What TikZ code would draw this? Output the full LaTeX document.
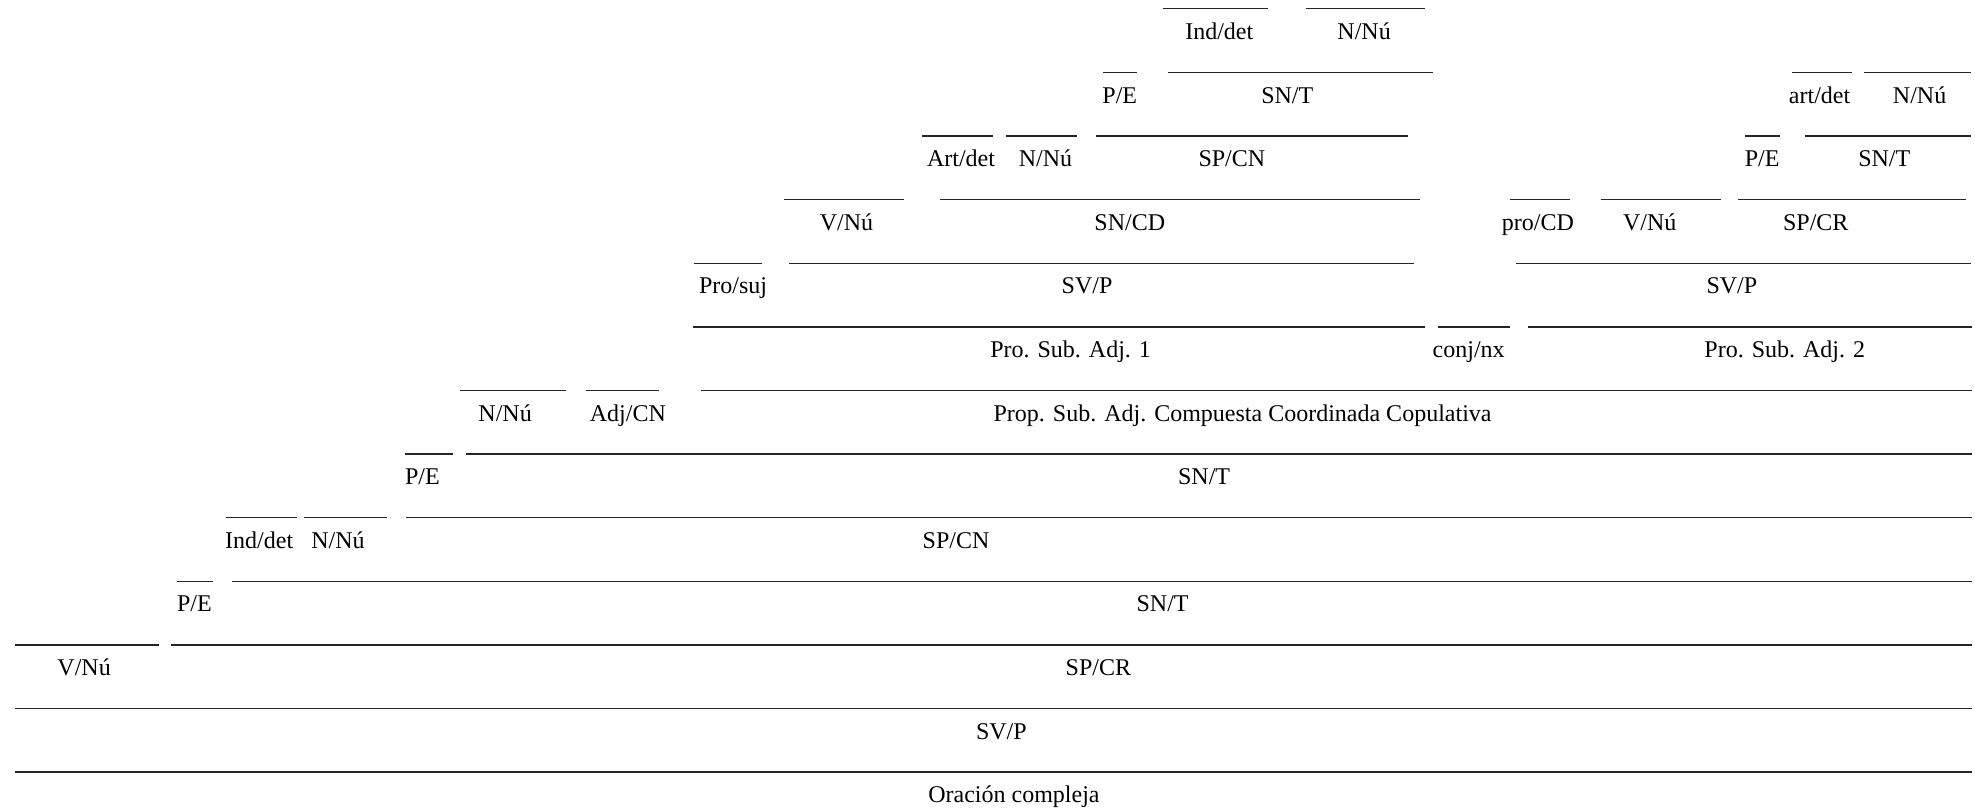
\documentclass[tikz,border=0pt]{standalone}
\usepackage{fontspec}
\setmainfont{Liberation Serif}
\tikzset{
  uline/.style={line width=0.65pt, black!85},
  lab/.style={anchor=base, inner sep=0pt, font=\fontsize{12}{14}\selectfont}
}
% #1 name, #2 row, #3 line start, #4 line end, #5 label centre, #6 text
\newcommand{\synt}[6]{%
  \coordinate (#1L) at (#3,{7+50.5*#2});
  \coordinate (#1R) at (#4,{7+50.5*#2});
  \draw[uline] (#1L) -- (#1R);
  \node[lab] (#1) at (#5,{31.3+50.5*#2}) {#6};}
\begin{document}
\begin{tikzpicture}[x=0.6298pt,y=-0.6298pt]
\useasboundingbox (0,0) rectangle (1568,641);
% row 0
\synt{a1}{0}{923}{1007}{968}{Ind/det}
\synt{a2}{0}{1036.5}{1131.7}{1083}{N/Nú}
% row 1
\synt{b1}{1}{875.8}{902.8}{889}{P/E}
\synt{b2}{1}{927}{1137.7}{1022}{SN/T}
\synt{b3}{1}{1422.4}{1470}{1444.6}{art/det}
\synt{b4}{1}{1480}{1565}{1524}{N/Nú}
% row 2
\synt{c1}{2}{732}{788}{763}{Art/det}
\synt{c2}{2}{798.6}{855.4}{830}{N/Nú}
\synt{c3}{2}{870}{1117.5}{978}{SP/CN}
\synt{c4}{2}{1385.4}{1413}{1399}{P/E}
\synt{c5}{2}{1433}{1565}{1496}{SN/T}
% row 3
\synt{d1}{3}{622.6}{717.4}{672}{V/Nú}
\synt{d2}{3}{746}{1127}{897}{SN/CD}
\synt{d3}{3}{1199}{1246.5}{1221}{pro/CD}
\synt{d4}{3}{1270.8}{1366}{1309.7}{V/Nú}
\synt{d5}{3}{1380}{1561}{1441.6}{SP/CR}
% row 4
\synt{e1}{4}{551}{605}{582}{Pro/suj}
\synt{e2}{4}{626.6}{1122.4}{863}{SV/P}
\synt{e3}{4}{1203.6}{1565}{1375}{SV/P}
% row 5
\synt{f1}{5}{550}{1131}{850}{Pro. Sub. Adj. 1}
\synt{f2}{5}{1141.4}{1198.8}{1166}{conj/nx}
\synt{f3}{5}{1212.8}{1565.6}{1417}{Pro. Sub. Adj. 2}
% row 6
\synt{g1}{6}{365.2}{449.7}{401}{N/Nú}
\synt{g2}{6}{465.5}{523.2}{498.5}{Adj/CN}
\synt{g3}{6}{556.5}{1565.6}{986.5}{Prop. Sub. Adj. Compuesta Coordinada Copulativa}
% row 7
\synt{h1}{7}{321.5}{359.7}{335.4}{P/E}
\synt{h2}{7}{369.7}{1565.6}{956}{SN/T}
% row 8
\synt{i1}{8}{179.4}{236}{205.8}{Ind/det}
\synt{i2}{8}{241.3}{307.5}{268.3}{N/Nú}
\synt{i3}{8}{322}{1565.6}{759}{SP/CN}
% row 9
\synt{j1}{9}{140.8}{168.8}{154.4}{P/E}
\synt{j2}{9}{184}{1565.6}{923}{SN/T}
% row 10
\synt{k1}{10}{11.9}{126.5}{66.8}{V/Nú}
\synt{k2}{10}{135.8}{1565.6}{872}{SP/CR}
% row 11
\synt{l1}{11}{11.9}{1565.6}{795}{SV/P}
% row 12
\synt{m1}{12}{11.9}{1565.6}{805}{Oración compleja}
\end{tikzpicture}
\end{document}
